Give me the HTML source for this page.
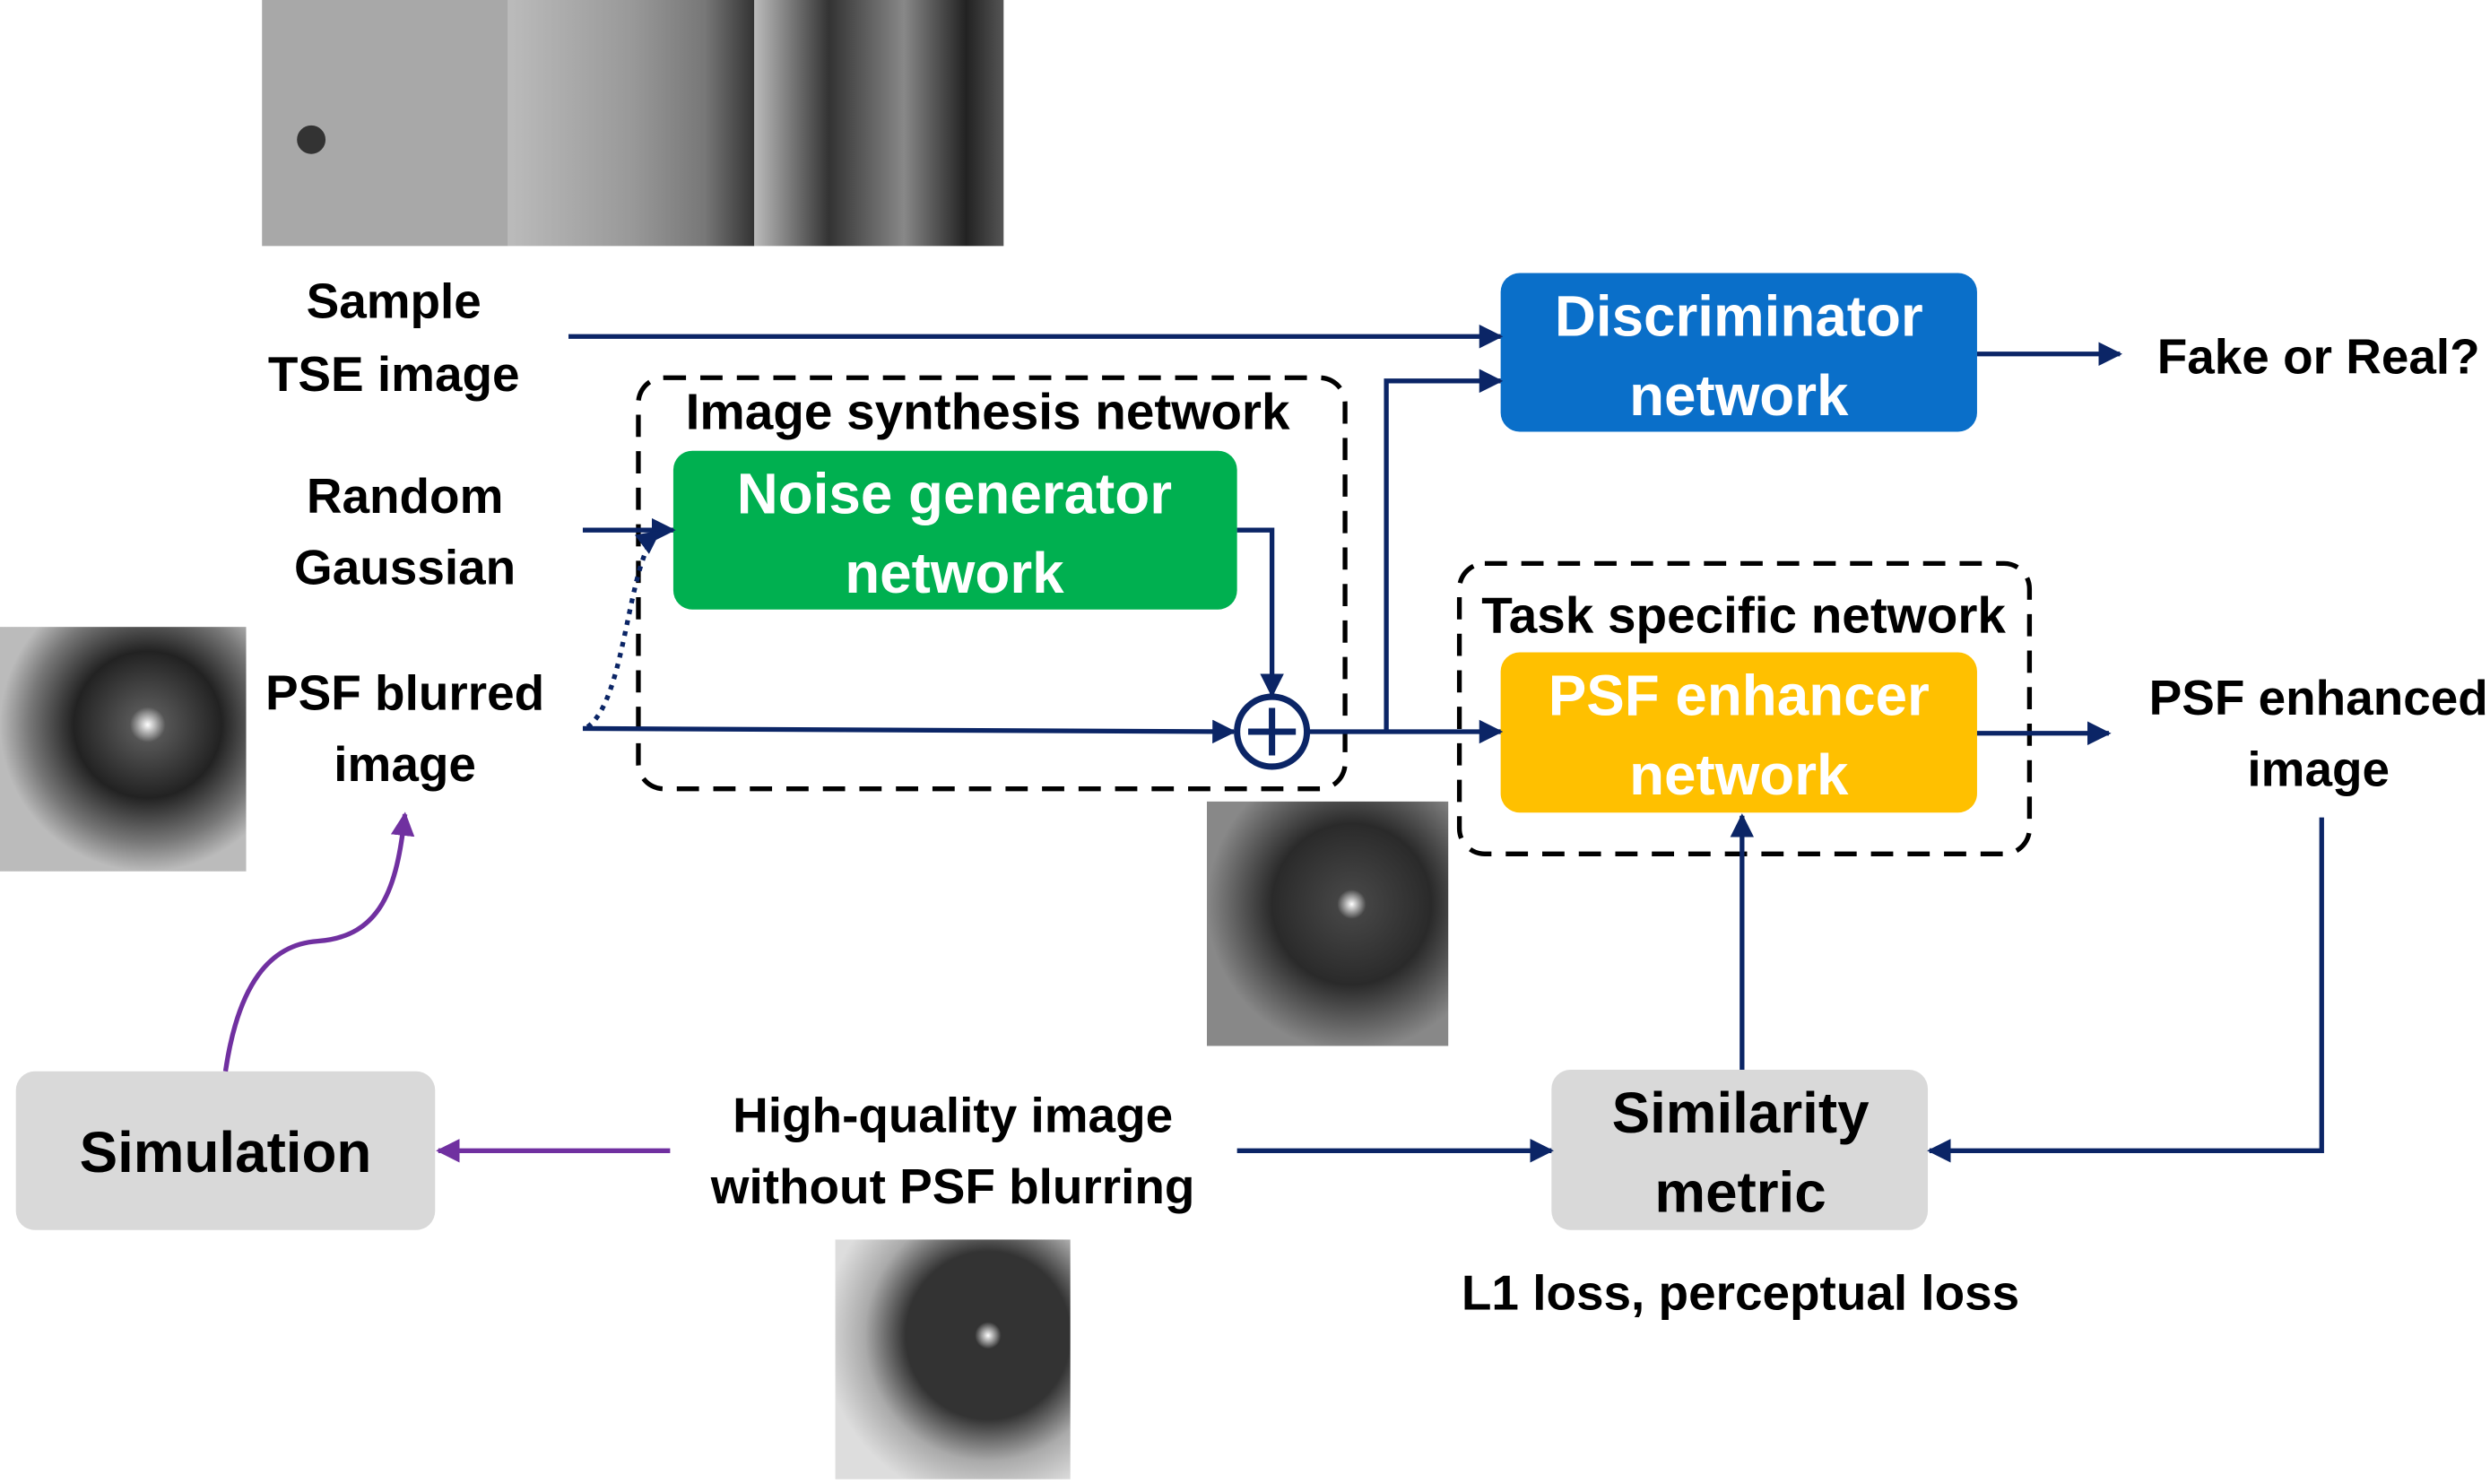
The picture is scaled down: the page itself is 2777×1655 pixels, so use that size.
<!DOCTYPE html>
<html><head><meta charset="utf-8"><style>
html,body{margin:0;padding:0;background:#fff}
svg{display:block}
text{font-family:"Liberation Sans",Arial,sans-serif;font-weight:bold;text-anchor:middle;dominant-baseline:middle}
</style></head><body>
<svg width="2777" height="1655" viewBox="0 0 1568 935" preserveAspectRatio="none" xmlns="http://www.w3.org/2000/svg">
<defs>
<marker id="a" viewBox="0 0 10 10" refX="9" refY="5" markerWidth="5" markerHeight="5" orient="auto"><path d="M0,0L10,5L0,10z" fill="#0b2566"/></marker>
<marker id="p" viewBox="0 0 10 10" refX="9" refY="5" markerWidth="5" markerHeight="5" orient="auto"><path d="M0,0L10,5L0,10z" fill="#7030a0"/></marker>
<radialGradient id="g1" cx="0.6" cy="0.4" r="0.6"><stop offset="0" stop-color="#fff"/><stop offset="0.12" stop-color="#555"/><stop offset="0.5" stop-color="#222"/><stop offset="0.8" stop-color="#777"/><stop offset="1" stop-color="#bbb"/></radialGradient>
<radialGradient id="g2" cx="0.6" cy="0.42" r="0.6"><stop offset="0" stop-color="#fff"/><stop offset="0.1" stop-color="#444"/><stop offset="0.55" stop-color="#2a2a2a"/><stop offset="1" stop-color="#888"/></radialGradient>
<radialGradient id="g3" cx="0.65" cy="0.4" r="0.7"><stop offset="0" stop-color="#fff"/><stop offset="0.08" stop-color="#333"/><stop offset="0.5" stop-color="#333"/><stop offset="0.75" stop-color="#aaa"/><stop offset="1" stop-color="#ddd"/></radialGradient>
<linearGradient id="t3" x1="0" x2="1"><stop offset="0" stop-color="#bbb"/><stop offset="0.3" stop-color="#333"/><stop offset="0.6" stop-color="#888"/><stop offset="0.85" stop-color="#222"/><stop offset="1" stop-color="#555"/></linearGradient>
<linearGradient id="t2" x1="0" x2="1"><stop offset="0" stop-color="#bbb"/><stop offset="0.5" stop-color="#999"/><stop offset="0.8" stop-color="#777"/><stop offset="1" stop-color="#333"/></linearGradient>
</defs>
<rect x="165" y="0" width="155" height="155" fill="#a8a8a8"/>
<circle cx="196" cy="88" r="9" fill="#333"/>
<rect x="320" y="0" width="155" height="155" fill="url(#t2)"/>
<rect x="475" y="0" width="157" height="155" fill="url(#t3)"/>
<rect x="0" y="395" width="155" height="154" fill="url(#g1)"/>
<rect x="760" y="505" width="152" height="154" fill="url(#g2)"/>
<rect x="526" y="781" width="148" height="151" fill="url(#g3)"/>

<g font-size="31">
<text x="248" y="192">Sample</text><text x="248" y="238">TSE image</text>
<text x="255" y="315">Random</text><text x="255" y="360">Gaussian</text>
<text x="255" y="439">PSF blurred</text><text x="255" y="484">image</text>
<text x="1460" y="227">Fake or Real?</text>
<text x="1460" y="442">PSF enhanced</text><text x="1460" y="487">image</text>
<text x="600" y="705">High-quality image</text><text x="600" y="750">without PSF blurring</text>
<text x="1096" y="817">L1 loss, perceptual loss</text>
</g>

<rect x="402" y="238" width="445" height="259" rx="16" fill="none" stroke="#000" stroke-width="3" stroke-dasharray="14,9"/>
<text x="622" y="262" font-size="32">Image synthesis network</text>
<rect x="919" y="355" width="359" height="183" rx="16" fill="none" stroke="#000" stroke-width="3" stroke-dasharray="14,9"/>
<text x="1098" y="390" font-size="32">Task specific network</text>

<rect x="945" y="172" width="300" height="100" rx="12" fill="#0a6fc9"/>
<text x="1095" y="202" font-size="36" fill="#fff">Discriminator</text><text x="1095" y="252" font-size="36" fill="#fff">network</text>
<rect x="424" y="284" width="355" height="100" rx="12" fill="#00b050"/>
<text x="601" y="314" font-size="36" fill="#fff">Noise generator</text><text x="601" y="364" font-size="36" fill="#fff">network</text>
<rect x="945" y="411" width="300" height="101" rx="12" fill="#ffc000"/>
<text x="1095" y="441" font-size="36" fill="#fff">PSF enhancer</text><text x="1095" y="491" font-size="36" fill="#fff">network</text>
<rect x="977" y="674" width="237" height="101" rx="12" fill="#d9d9d9"/>
<text x="1096" y="704" font-size="36">Similarity</text><text x="1096" y="754" font-size="36">metric</text>
<rect x="10" y="675" width="264" height="100" rx="12" fill="#d9d9d9"/>
<text x="142" y="729" font-size="36">Simulation</text>

<g stroke="#0b2566" stroke-width="3" fill="none">
<line x1="358" y1="212" x2="945" y2="212" marker-end="url(#a)"/>
<line x1="1245" y1="223" x2="1335" y2="223" marker-end="url(#a)"/>
<line x1="367" y1="334" x2="424" y2="334" marker-end="url(#a)"/>
<path d="M370,458 C395,440 395,350 415,335" stroke-dasharray="3,4" marker-end="url(#a)"/>
<line x1="367" y1="459" x2="777" y2="461" marker-end="url(#a)"/>
<path d="M779,334 H801 V438" marker-end="url(#a)"/>
<circle cx="801" cy="461" r="22" stroke-width="4"/>
<line x1="801" y1="446" x2="801" y2="476" stroke-width="4"/><line x1="786" y1="461" x2="816" y2="461" stroke-width="4"/>
<line x1="824" y1="461" x2="945" y2="461" marker-end="url(#a)"/>
<path d="M873,461 V240 H945" marker-end="url(#a)"/>
<line x1="1245" y1="462" x2="1328" y2="462" marker-end="url(#a)"/>
<path d="M1462,515 V725 H1215" marker-end="url(#a)"/>
<line x1="1097" y1="674" x2="1097" y2="514" marker-end="url(#a)"/>
<line x1="779" y1="725" x2="977" y2="725" marker-end="url(#a)"/>
</g>
<g stroke="#7030a0" stroke-width="3" fill="none">
<line x1="422" y1="725" x2="276" y2="725" marker-end="url(#p)"/>
<path d="M142,675 C150,620 170,595 200,593 C240,590 250,560 255,513" marker-end="url(#p)"/>
</g>
</svg>
</body></html>
